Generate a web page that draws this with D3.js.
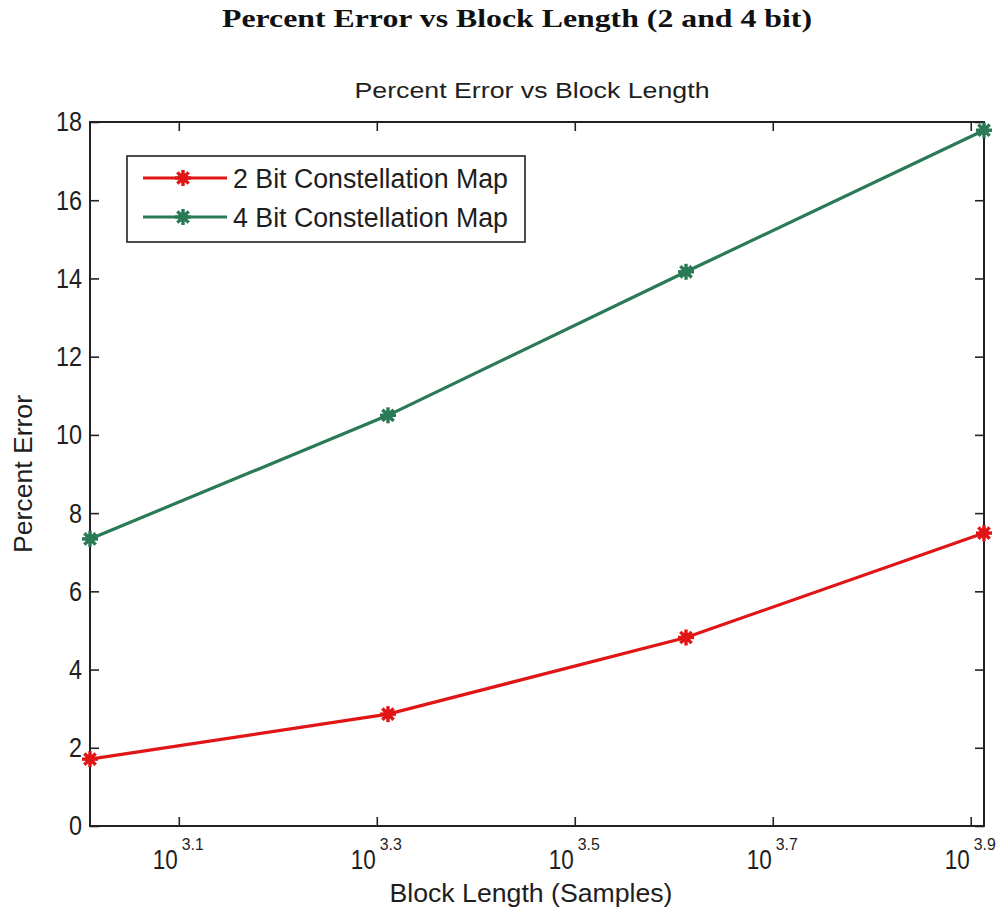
<!DOCTYPE html>
<html>
<head>
<meta charset="utf-8">
<script src="https://cdn.jsdelivr.net/npm/d3@7"></script>
<style>
  html, body { margin: 0; padding: 0; background: #fff; }
  svg { display: block; }
</style>
</head>
<body>
<svg id="chart" width="1002" height="911"></svg>
<script>
// Block lengths (samples) and measured percent error per constellation size
const blockLengths = [1024, 2048, 4096, 8192];
const error2Bit = [1.71, 2.86, 4.82, 7.49];
const error4Bit = [7.34, 10.5, 14.17, 17.79];
const seriesNames = ["2 Bit Constellation Map", "4 Bit Constellation Map"];
const seriesColors = ["#e01515", "#2a7a55"];
const xTickExponents = [3.1, 3.3, 3.5, 3.7, 3.9];
const yTicks = [0, 2, 4, 6, 8, 10, 12, 14, 16, 18];

const svg = d3.select("#chart");
const plot = { left: 90, top: 122, right: 984, bottom: 826 };
const sans = "Liberation Sans, Arial, sans-serif";
const ink = "#1e1e1e";

const x = d3.scaleLog().domain([1024, 8192]).range([plot.left, plot.right]);
const y = d3.scaleLinear().domain([0, 18]).range([plot.bottom, plot.top]);

// Figure title
svg.append("text")
  .attr("x", 517).attr("y", 27)
  .attr("text-anchor", "middle")
  .attr("font-family", "Liberation Serif, serif")
  .attr("font-weight", "bold")
  .attr("font-size", 26)
  .attr("textLength", 590)
  .attr("lengthAdjust", "spacingAndGlyphs")
  .attr("fill", "#111")
  .text("Percent Error vs Block Length (2 and 4 bit)");

// Axes title
svg.append("text")
  .attr("x", 532).attr("y", 98)
  .attr("text-anchor", "middle")
  .attr("font-family", sans)
  .attr("font-size", 22)
  .attr("textLength", 355)
  .attr("lengthAdjust", "spacingAndGlyphs")
  .attr("fill", ink)
  .text("Percent Error vs Block Length");

const tickLen = 9;
const axisColor = "#222";
const g = svg.append("g");

const xTickVals = xTickExponents.map(e => Math.pow(10, e));
const yAxisL = d3.axisLeft(y).tickValues(yTicks).tickSize(-tickLen).tickPadding(8);
const yAxisR = d3.axisRight(y).tickValues(yTicks).tickSize(-tickLen).tickFormat("");
const xAxisB = d3.axisBottom(x).tickValues(xTickVals).tickSize(-tickLen).tickFormat("");
const xAxisT = d3.axisTop(x).tickValues(xTickVals).tickSize(-tickLen).tickFormat("");

function styleAxis(sel) {
  sel.select(".domain").remove();
  sel.selectAll(".tick line").attr("stroke", axisColor).attr("stroke-width", 1.6);
  sel.selectAll(".tick text")
    .attr("font-family", sans)
    .attr("font-size", 28)
    .attr("fill", ink)
    .attr("lengthAdjust", "spacingAndGlyphs")
    .attr("textLength", function() { return this.textContent.length * 13; });
}

g.append("g").attr("transform", `translate(${plot.left},0)`).call(yAxisL).call(styleAxis);
g.append("g").attr("transform", `translate(${plot.right},0)`).call(yAxisR).call(styleAxis);
g.append("g").attr("transform", `translate(0,${plot.bottom})`).call(xAxisB).call(styleAxis);
g.append("g").attr("transform", `translate(0,${plot.top})`).call(xAxisT).call(styleAxis);

// Power-of-ten x labels with superscript exponents
const xLab = svg.append("g");
xTickExponents.forEach(e => {
  const px = x(Math.pow(10, e));
  xLab.append("text")
    .attr("x", px - 1).attr("y", 869)
    .attr("text-anchor", "end")
    .attr("font-family", sans)
    .attr("font-size", 28)
    .attr("textLength", 25)
    .attr("lengthAdjust", "spacingAndGlyphs")
    .attr("fill", ink)
    .text("10");
  xLab.append("text")
    .attr("x", px + 3).attr("y", 850)
    .attr("text-anchor", "start")
    .attr("font-family", sans)
    .attr("font-size", 16)
    .attr("textLength", 22)
    .attr("lengthAdjust", "spacingAndGlyphs")
    .attr("fill", ink)
    .text(e.toFixed(1));
});

// Axis labels
svg.append("text")
  .attr("x", 531).attr("y", 902)
  .attr("text-anchor", "middle")
  .attr("font-family", sans)
  .attr("font-size", 26)
  .attr("textLength", 283)
  .attr("lengthAdjust", "spacingAndGlyphs")
  .attr("fill", ink)
  .text("Block Length (Samples)");

svg.append("text")
  .attr("transform", "translate(32,474) rotate(-90)")
  .attr("text-anchor", "middle")
  .attr("font-family", sans)
  .attr("font-size", 25)
  .attr("textLength", 158)
  .attr("lengthAdjust", "spacingAndGlyphs")
  .attr("fill", ink)
  .text("Percent Error");

// Plot box
svg.append("rect")
  .attr("x", plot.left).attr("y", plot.top)
  .attr("width", plot.right - plot.left).attr("height", plot.bottom - plot.top)
  .attr("fill", "none").attr("stroke", axisColor).attr("stroke-width", 2);

// Asterisk-like marker
function star(sel, cx, cy, color, r) {
  const gm = sel.append("g").attr("transform", `translate(${cx},${cy})`);
  [0, 45, 90, 135].forEach(a => {
    const rad = a * Math.PI / 180;
    gm.append("line")
      .attr("x1", -r * Math.cos(rad)).attr("y1", -r * Math.sin(rad))
      .attr("x2", r * Math.cos(rad)).attr("y2", r * Math.sin(rad))
      .attr("stroke", color).attr("stroke-width", 3.4);
  });
  gm.append("circle").attr("r", r * 0.6).attr("fill", color);
}

const line = d3.line().x(d => x(d[0])).y(d => y(d[1]));
const series = [error2Bit, error4Bit];
series.forEach((vals, i) => {
  const pts = blockLengths.map((b, j) => [b, vals[j]]);
  svg.append("path")
    .datum(pts)
    .attr("d", line)
    .attr("fill", "none")
    .attr("stroke", seriesColors[i])
    .attr("stroke-width", 3.2);
  pts.forEach(p => star(svg, x(p[0]), y(p[1]), seriesColors[i], 8));
});

// Legend
const lg = svg.append("g");
lg.append("rect")
  .attr("x", 127).attr("y", 156).attr("width", 398).attr("height", 86)
  .attr("fill", "#fff").attr("stroke", axisColor).attr("stroke-width", 1.6);
seriesNames.forEach((name, i) => {
  const ly = 178 + i * 39;
  lg.append("line")
    .attr("x1", 143).attr("x2", 227).attr("y1", ly).attr("y2", ly)
    .attr("stroke", seriesColors[i]).attr("stroke-width", 3.2);
  star(lg, 183, ly, seriesColors[i], 8);
  lg.append("text")
    .attr("x", 233).attr("y", ly + 10)
    .attr("font-family", sans)
    .attr("font-size", 27)
    .attr("textLength", 275)
    .attr("lengthAdjust", "spacingAndGlyphs")
    .attr("fill", ink)
    .text(name);
});
</script>
</body>
</html>
